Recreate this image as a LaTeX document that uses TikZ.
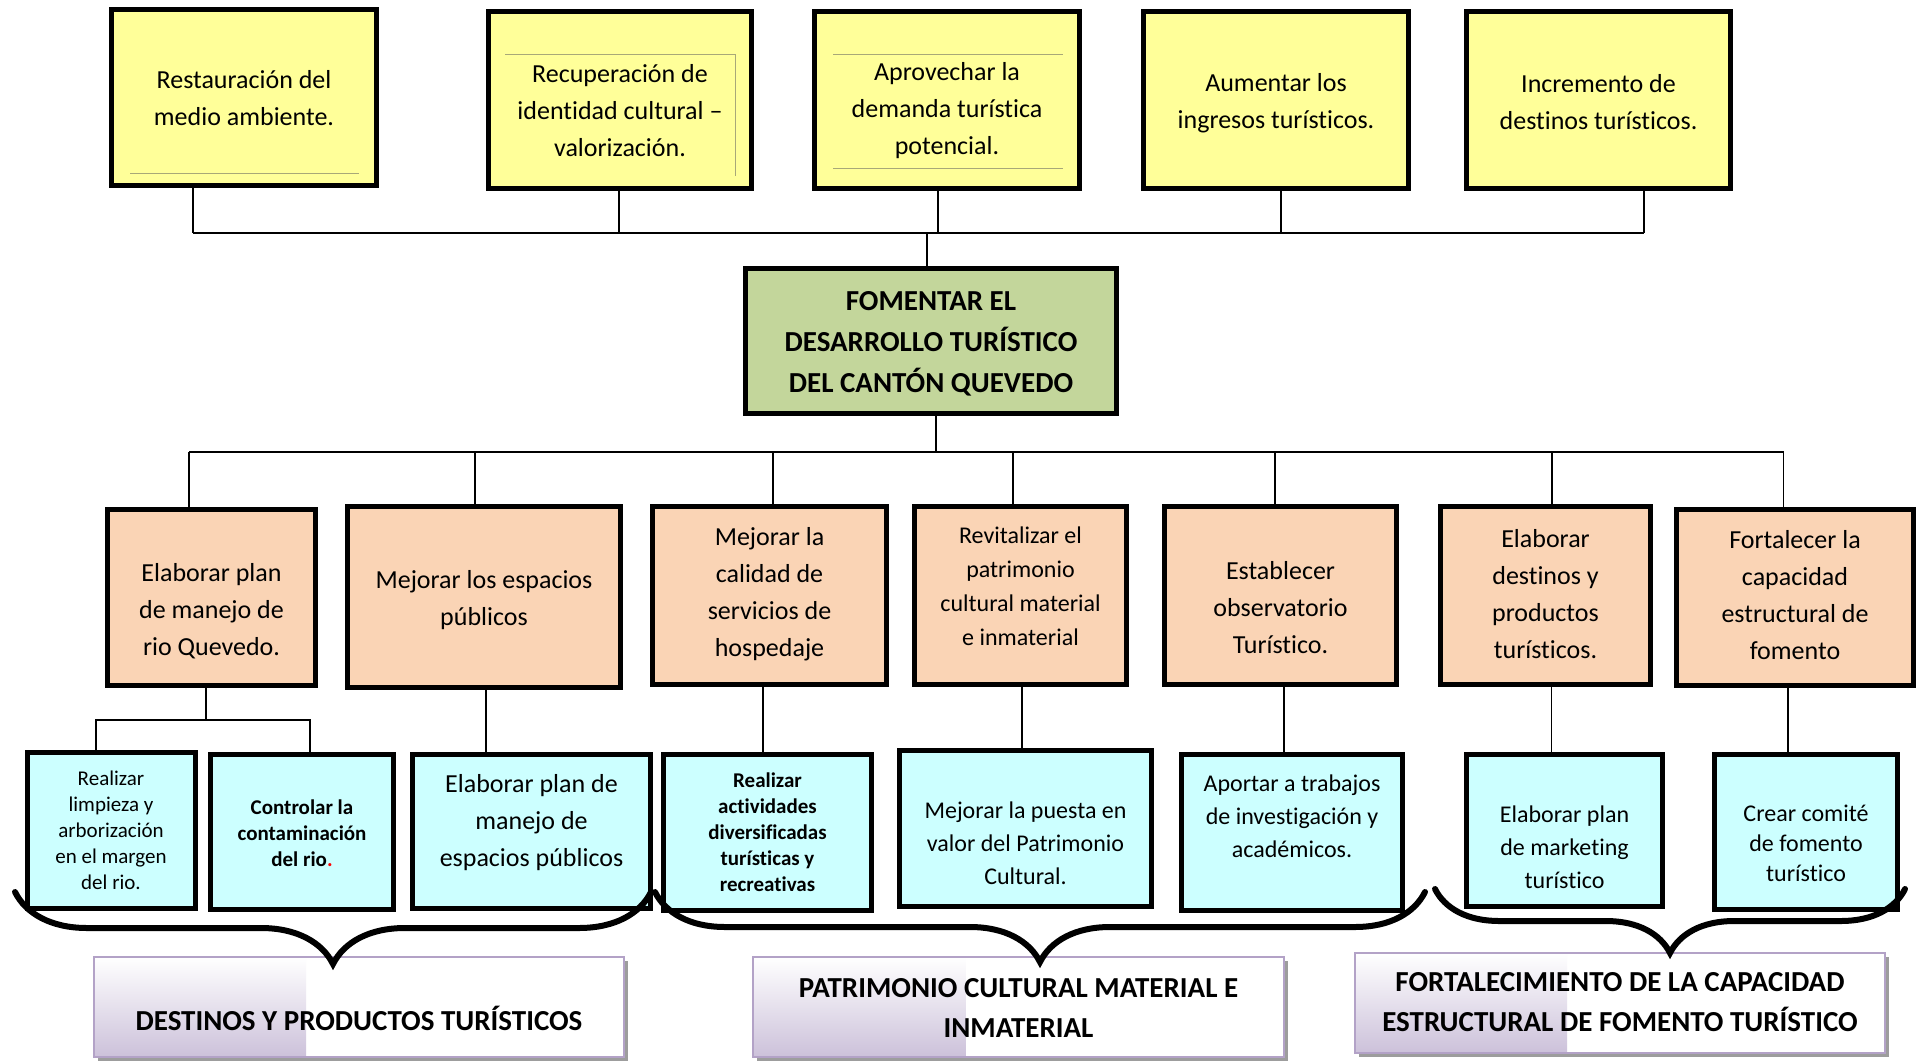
\documentclass[tikz,border=0pt]{standalone}
\usepackage{fontspec}
\setmainfont{Carlito}[Ligatures={NoCommon,NoContextual}]
\usepackage{tikz}
\usetikzlibrary{decorations.pathreplacing,calc,shadows}
\definecolor{goalyellow}{HTML}{FFFF99}
\definecolor{aimgreen}{HTML}{C3D69B}
\definecolor{taskpeach}{HTML}{FAD4B5}
\definecolor{actcyan}{HTML}{CCFFFF}
\definecolor{axislav}{HTML}{CCC1DA}
\definecolor{axisborder}{HTML}{B3A2C7}
\definecolor{rulecol}{HTML}{A8A878}
\newcommand{\fnbig}{\fontsize{26}{37}\selectfont}
\newcommand{\fnmid}{\fontsize{24}{33}\selectfont}
\newcommand{\fnsml}{\fontsize{21}{26}\selectfont}
\newcommand{\fnhead}{\fontsize{29}{41}\selectfont\bfseries}
\tikzstyle{goal}=[rectangle,fill=goalyellow,inner sep=0pt,line width=5pt,draw=black,anchor=center]
\tikzstyle{aim}=[goal,fill=aimgreen]
\tikzstyle{task}=[goal,fill=taskpeach]
\tikzstyle{act}=[goal,fill=actcyan]
\tikzstyle{axis}=[rectangle,fill=white,inner sep=0pt,line width=2.5pt,draw=axisborder,anchor=center,
  drop shadow={shadow xshift=4pt,shadow yshift=-4pt,fill=black!55,opacity=0.7},
  path picture={\shade[top color=white,bottom color=axislav] (path picture bounding box.north west) rectangle ($(path picture bounding box.south west)!0.4!(path picture bounding box.south east)$);}]
\tikzstyle{annot}=[align=center,inner sep=0pt]
\tikzstyle{link}=[line width=1.6pt]
\tikzstyle{thinrule}=[line width=1pt,draw=rulecol]
\tikzset{brc/.style={decorate,decoration={brace,mirror,amplitude=#1},line width=6pt,line cap=round}}
\newcommand{\card}[8]
{
  \node[#1, minimum width=#4pt, minimum height=#5pt](#2) at (#3){};
  \node[annot, font=#7](#2txt) at ($(#2)+(0,#6)$){#8};
}

\begin{document}
\begin{tikzpicture}[x=1pt,y=-1pt]
	\useasboundingbox (0,0) rectangle (1926,1060);

	% fines
	\card{goal}{t1}{244,97.5}{265}{176}{1}{\fnbig}{Restauración del\\medio ambiente.}
	\card{goal}{t2}{620,100}{263}{177}{11}{\fnbig}{Recuperación de\\identidad cultural –\\valorización.}
	\card{goal}{t3}{947,100}{265}{177}{11}{\fnbig}{Aprovechar la\\demanda turística\\potencial.}
	\card{goal}{t4}{1276,100}{265}{177}{3}{\fnbig}{Aumentar los\\ingresos turísticos.}
	\card{goal}{t5}{1598.5,100}{264}{177}{2}{\fnbig}{Incremento de\\destinos turísticos.}
	\draw[thinrule] (130,173) -- (359,173);
	\draw[thinrule] (505,54) -- (735,54) -- (735,176);
	\draw[thinrule] (833,54) -- (1063,54);
	\draw[thinrule] (833,168) -- (1063,168);

	% proposito
	\card{aim}{fom}{931,341}{371}{145}{3}{\fnhead}{FOMENTAR EL\\DESARROLLO TURÍSTICO\\DEL CANTÓN QUEVEDO}

	% componentes
	\card{task}{m1}{211.5,597.5}{208}{176}{14}{\fnbig}{Elaborar plan\\de manejo de\\rio Quevedo.}
	\card{task}{m2}{484,597}{273}{181}{3}{\fnbig}{Mejorar los espacios\\públicos}
	\card{task}{m3}{769.5,595.5}{234}{178}{-1}{\fnbig}{Mejorar la\\calidad de\\servicios de\\hospedaje}
	\card{task}{m4}{1020.5,595.5}{212}{178}{-9}{\fontsize{24}{34}\selectfont}{Revitalizar el\\patrimonio\\cultural material\\e inmaterial}
	\card{task}{m5}{1280.5,595.5}{232}{178}{12}{\fnbig}{Establecer\\observatorio\\Turístico.}
	\card{task}{m6}{1545.5,595.5}{210}{178}{-1}{\fnbig}{Elaborar\\destinos y\\productos\\turísticos.}
	\card{task}{m7}{1795,597.5}{237}{176}{-2}{\fnbig}{Fortalecer la\\capacidad\\estructural de\\fomento}

	% actividades
	\card{act}{b1}{111,830.5}{168}{156}{0}{\fnsml}{Realizar\\limpieza y\\arborización\\en el margen\\del rio.}
	\card{act}{b2}{302,832}{183}{155}{1}{\fnsml\bfseries}{Controlar la\\contaminación\\del rio{\color{red}.}}
	\card{act}{b3}{531.5,831.5}{238}{154}{-9}{\fnbig}{Elaborar plan de\\manejo de\\espacios públicos}
	\card{act}{b4}{767.5,832.5}{208}{156}{0}{\fnsml\bfseries}{Realizar\\actividades\\diversificadas\\turísticas y\\recreativas}
	\card{act}{b5}{1025.5,828.5}{252}{156}{15}{\fnmid}{Mejorar la puesta en\\valor del Patrimonio\\Cultural.}
	\card{act}{b6}{1292,832.5}{221}{156}{-16}{\fnmid}{Aportar a trabajos\\de investigación y\\académicos.}
	\card{act}{b7}{1564.5,830.5}{196}{152}{17}{\fnmid}{Elaborar plan\\de marketing\\turístico}
	\card{act}{b8}{1806,832}{183}{155}{11}{\fontsize{24}{30}\selectfont}{Crear comité\\de fomento\\turístico}

	% ejes
	\card{axis}{c1}{359,1007}{530}{100}{11}{\fontsize{29}{40}\selectfont\bfseries}{DESTINOS Y PRODUCTOS TURÍSTICOS}
	\card{axis}{c2}{1018.5,1007}{531}{100}{1}{\fontsize{29}{40}\selectfont\bfseries}{PATRIMONIO CULTURAL MATERIAL E\\INMATERIAL}
	\card{axis}{c3}{1620,1003}{530}{100}{-1}{\fontsize{29}{40}\selectfont\bfseries}{FORTALECIMIENTO DE LA CAPACIDAD\\ESTRUCTURAL DE FOMENTO TURÍSTICO}

	% conectores arriba
	\coordinate (ja) at (193,233);
	\coordinate (jb) at (619,233);
	\coordinate (jc) at (938,233);
	\coordinate (jd) at (1281,233);
	\coordinate (je) at (1644,233);
	\coordinate (jf) at (927,233);
	\draw[link] (ja) -- (je);
	\draw[link] (t1.south -| ja) -- (ja);
	\draw[link] (t2.south -| jb) -- (jb);
	\draw[link] (t3.south -| jc) -- (jc);
	\draw[link] (t4.south -| jd) -- (jd);
	\draw[link] (t5.south -| je) -- (je);
	\draw[link] (jf) -- (jf |- fom.north);

	% conectores medio
	\coordinate (ka) at (189,452);
	\coordinate (kb) at (475,452);
	\coordinate (kc) at (773,452);
	\coordinate (kd) at (1013,452);
	\coordinate (ke) at (1275,452);
	\coordinate (kf) at (1552,452);
	\coordinate (kg) at (1783.5,452);
	\coordinate (kh) at (936,452);
	\draw[link] (ka) -- (kg);
	\draw[link] (fom.south -| kh) -- (kh);
	\draw[link] (ka) -- (ka |- m1.north);
	\draw[link] (kb) -- (kb |- m2.north);
	\draw[link] (kc) -- (kc |- m3.north);
	\draw[link] (kd) -- (kd |- m4.north);
	\draw[link] (ke) -- (ke |- m5.north);
	\draw[link] (kf) -- (kf |- m6.north);
	\draw[link] (kg) -- (kg |- m7.north);

	% conectores abajo
	\coordinate (la) at (206,720);
	\coordinate (lb) at (96,720);
	\coordinate (lc) at (310,720);
	\coordinate (ld) at (486,720);
	\coordinate (le) at (763,720);
	\coordinate (lf) at (1022,720);
	\coordinate (lg) at (1284,720);
	\coordinate (lh) at (1551.5,720);
	\coordinate (li) at (1788,720);
	\draw[link] (m1.south -| la) -- (la);
	\draw[link] (lb |- b1.north) -- (lb) -- (lc) -- (lc |- b2.north);
	\draw[link] (m2.south -| ld) -- (b3.north -| ld);
	\draw[link] (m3.south -| le) -- (b4.north -| le);
	\draw[link] (m4.south -| lf) -- (b5.north -| lf);
	\draw[link] (m5.south -| lg) -- (b6.north -| lg);
	\draw[link] (m6.south -| lh) -- (b7.north -| lh);
	\draw[link] (m7.south -| li) -- (b8.north -| li);

	% llaves
	\coordinate (ba1) at (15,892);
	\coordinate (ba2) at (651,892);
	\coordinate (bb1) at (655,892);
	\coordinate (bb2) at (1425,892);
	\coordinate (bc1) at (1435,889);
	\coordinate (bc2) at (1905,889);
	\draw[brc=72pt] (ba1) -- (ba2);
	\draw[brc=70pt] (bb1) -- (bb2);
	\draw[brc=64pt] (bc1) -- (bc2);
	%\draw[brc=72pt] (bc1) -- (bc2);

\end{tikzpicture}
\end{document}
